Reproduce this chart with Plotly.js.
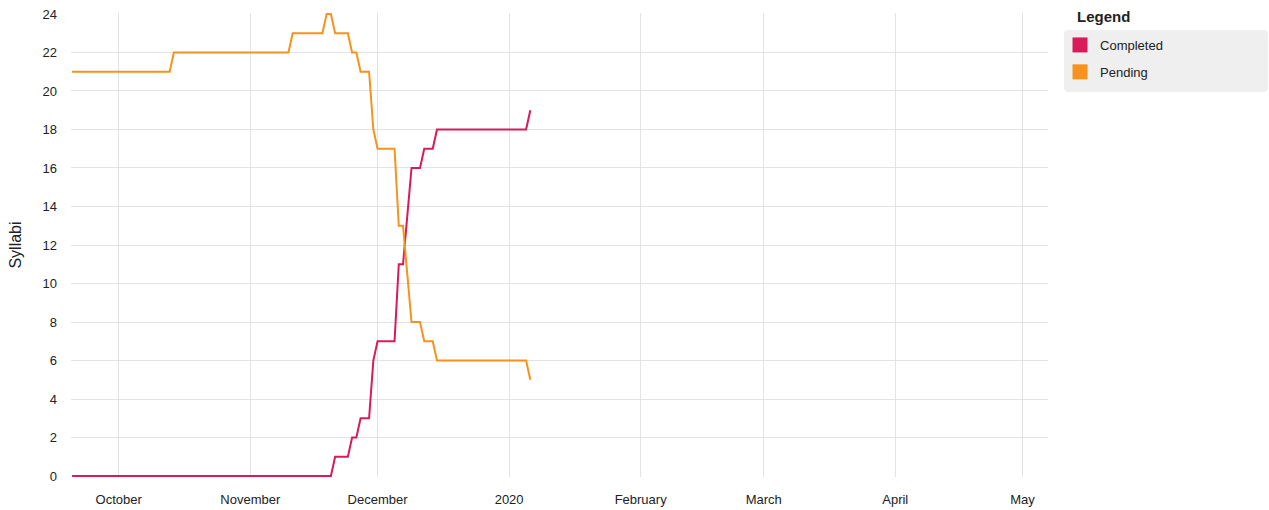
<!DOCTYPE html>
<html>
<head>
<meta charset="utf-8">
<script src="https://cdn.plot.ly/plotly-3.0.1.min.js"></script>
<style>
  html, body { margin: 0; padding: 0; background: #ffffff; }
  #chart { width: 1269px; height: 510px; }
</style>
</head>
<body>
<div id="chart"></div>
<script>
// ---- Data ----
const completedDates = ["2019-09-20","2019-11-20","2019-11-21","2019-11-24","2019-11-25","2019-11-26","2019-11-27","2019-11-29","2019-11-30","2019-12-01","2019-12-05","2019-12-06","2019-12-07","2019-12-09","2019-12-11","2019-12-12","2019-12-14","2019-12-15","2020-01-05","2020-01-06"];
const completedValues = [0,0,1,1,2,2,3,3,6,7,7,11,11,16,16,17,17,18,18,19];

const pendingDates = ["2019-09-20","2019-10-13","2019-10-14","2019-11-10","2019-11-11","2019-11-18","2019-11-19","2019-11-20","2019-11-21","2019-11-24","2019-11-25","2019-11-26","2019-11-27","2019-11-29","2019-11-30","2019-12-01","2019-12-05","2019-12-06","2019-12-07","2019-12-09","2019-12-11","2019-12-12","2019-12-14","2019-12-15","2020-01-05","2020-01-06"];
const pendingValues = [21,21,22,22,23,23,24,24,23,23,22,22,21,21,18,17,17,13,13,8,8,7,7,6,6,5];

const monthTickDates = ["2019-10-01","2019-11-01","2019-12-01","2020-01-01","2020-02-01","2020-03-01","2020-04-01","2020-05-01"];
const monthTickLabels = ["October","November","December","2020","February","March","April","May"];

const seriesNames = ["Completed","Pending"];
const seriesColors = ["#d81b5a","#f6921e"];

const FONT = "Liberation Sans, Arial, Helvetica, sans-serif";

const traces = [
  {x: completedDates, y: completedValues, name: seriesNames[0], mode: "lines",
   line: {color: seriesColors[0], width: 2}, showlegend: false, hoverinfo: "skip"},
  {x: pendingDates, y: pendingValues, name: seriesNames[1], mode: "lines",
   line: {color: seriesColors[1], width: 2}, showlegend: false, hoverinfo: "skip"},
  // legend entries (square swatches)
  {x: [null], y: [null], name: seriesNames[0], mode: "markers", legendgroup: "a",
   marker: {symbol: "square", size: 15, color: seriesColors[0]}, hoverinfo: "skip"},
  {x: [null], y: [null], name: seriesNames[1], mode: "markers", legendgroup: "b",
   marker: {symbol: "square", size: 15, color: seriesColors[1]}, hoverinfo: "skip"}
];

// legend background panel (rounded rectangle, paper coordinates)
const bx0 = 1.0164, bx1 = 1.2252, by0 = 0.8297, by1 = 0.9634, rx = 0.0045, ry = 0.0095;
const panelPath =
  "M " + (bx0 + rx) + " " + by1 +
  " L " + (bx1 - rx) + " " + by1 +
  " Q " + bx1 + " " + by1 + " " + bx1 + " " + (by1 - ry) +
  " L " + bx1 + " " + (by0 + ry) +
  " Q " + bx1 + " " + by0 + " " + (bx1 - rx) + " " + by0 +
  " L " + (bx0 + rx) + " " + by0 +
  " Q " + bx0 + " " + by0 + " " + bx0 + " " + (by0 + ry) +
  " L " + bx0 + " " + (by1 - ry) +
  " Q " + bx0 + " " + by1 + " " + (bx0 + rx) + " " + by1 + " Z";

const layout = {
  width: 1269, height: 510,
  margin: {l: 71, r: 221, t: 13, b: 33},
  paper_bgcolor: "#ffffff", plot_bgcolor: "#ffffff",
  font: {family: FONT, size: 13, color: "#222"},
  xaxis: {
    type: "date",
    range: ["2019-09-19 18:00", "2020-05-07 00:00"],
    tickmode: "array", tickvals: monthTickDates, ticktext: monthTickLabels,
    showgrid: true, gridcolor: "#e3e3e3", gridwidth: 1,
    showline: false, zeroline: false, ticks: "",
    ticklabelstandoff: 13,
    tickfont: {family: FONT, size: 13, color: "#222"}
  },
  yaxis: {
    range: [-0.05, 24.05], dtick: 2, tick0: 0,
    showgrid: true, gridcolor: "#e3e3e3", gridwidth: 1,
    showline: false, zeroline: false, ticks: "",
    ticklabelstandoff: 13,
    tickfont: {family: FONT, size: 13, color: "#222"},
    title: {text: "Syllabi", font: {family: FONT, size: 16, color: "#222"}, standoff: 16}
  },
  showlegend: true,
  legend: {
    x: 1.0123, xanchor: "left", y: 0.9634, yanchor: "top",
    bgcolor: "rgba(0,0,0,0)", borderwidth: 0,
    font: {family: FONT, size: 13, color: "#222"},
    tracegroupgap: 7,
    itemclick: false, itemdoubleclick: false
  },
  shapes: [{
    type: "path", xref: "paper", yref: "paper", path: panelPath,
    fillcolor: "#efefef", line: {width: 0}, layer: "below"
  }],
  annotations: [{
    text: "<b>Legend</b>", xref: "paper", yref: "paper",
    x: 1.0276, y: 0.9935, xanchor: "left", yanchor: "middle",
    showarrow: false, font: {family: FONT, size: 15, color: "#222"}
  }],
  hovermode: false
};

Plotly.newPlot("chart", traces, layout, {displayModeBar: false, staticPlot: true});
</script>
</body>
</html>
